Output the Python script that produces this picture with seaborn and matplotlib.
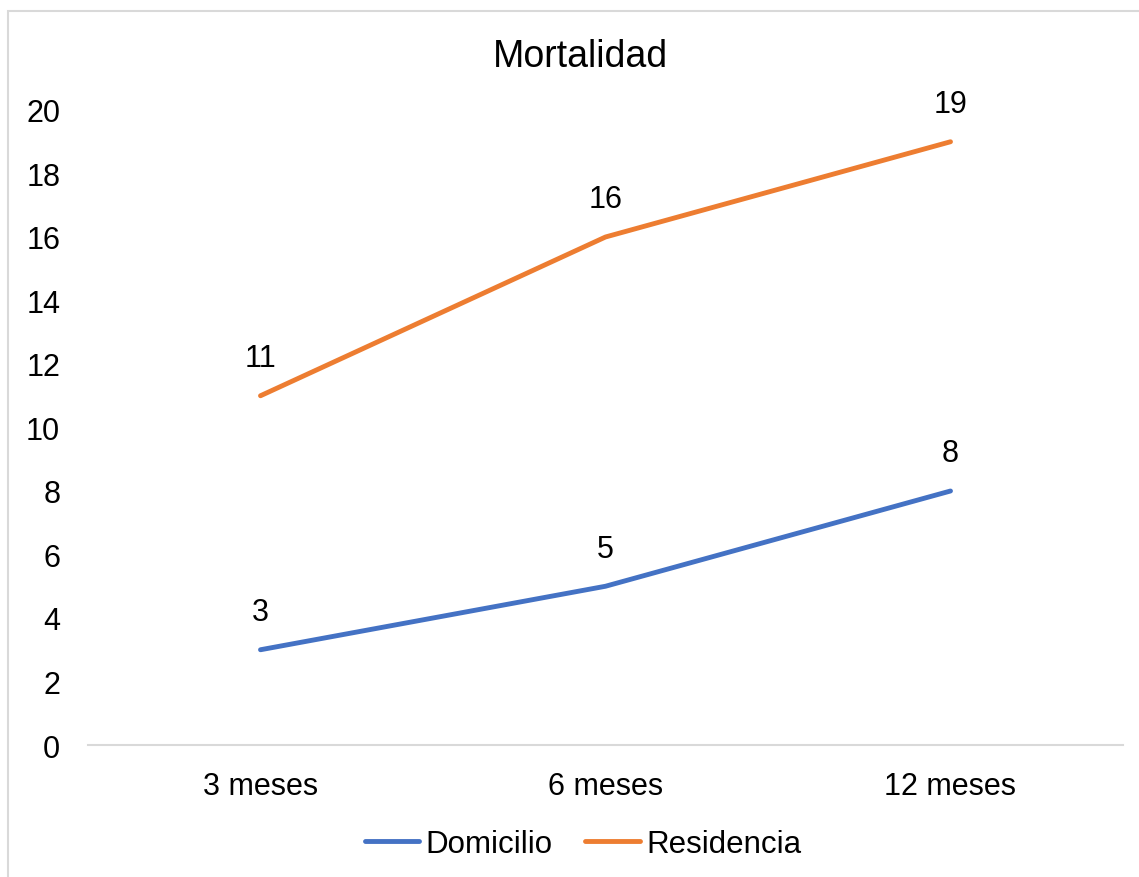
import matplotlib
matplotlib.use("Agg")
import matplotlib.pyplot as plt
import matplotlib.patches as mpatches
import seaborn as sns
import pandas as pd

periodos = ["3 meses", "6 meses", "12 meses"]
domicilio = [3, 5, 8]
residencia = [11, 16, 19]
series = ["Domicilio", "Residencia"]
colores = ["#4472C4", "#ED7D31"]

df = pd.DataFrame({
    "periodo": periodos * 2,
    "valor": domicilio + residencia,
    "serie": [series[0]] * 3 + [series[1]] * 3,
})
df["pos"] = [0, 1, 2] * 2

sns.set_theme(style="white")
plt.rcParams["font.family"] = ["Liberation Sans", "DejaVu Sans"]

W, H = 1139, 878
fig = plt.figure(figsize=(W / 100, H / 100), dpi=100)
ax = fig.add_axes([88 / W, 1 - 746 / H, (1123 - 88) / W, (746 - 111) / H])

sns.lineplot(data=df, x="pos", y="valor", hue="serie", palette=colores,
             linewidth=3.5, ax=ax, legend=False, solid_capstyle="round")

for vals in (domicilio, residencia):
    for i, v in enumerate(vals):
        ax.annotate(str(v), (i, v), xytext=(0, 27), textcoords="offset points",
                    ha="center", va="center", fontsize=22, color="#000000")

ax.set_xlim(-0.5, 2.5)
ax.set_ylim(0, 20)
ax.set_xticks(range(len(periodos)))
ax.set_xticklabels(periodos)
ax.set_yticks(range(0, 21, 2))
ax.tick_params(axis="both", length=0, labelsize=22, colors="#000000")
ax.tick_params(axis="y", pad=20)
ax.tick_params(axis="x", pad=19)
ax.set_xlabel("")
ax.set_ylabel("")
for s in ["top", "right", "left"]:
    ax.spines[s].set_visible(False)
ax.spines["bottom"].set_color("#d9d9d9")
ax.spines["bottom"].set_linewidth(1.5)

fig.text(580 / W, 1 - 57 / H, "Mortalidad", ha="center", va="center",
         fontsize=27, color="#000000")

handles = [plt.Line2D([0], [0], color=c, linewidth=3.5, solid_capstyle="round")
           for c in colores]
fig.legend(handles, series, loc="center", bbox_to_anchor=(583 / W, 1 - 845 / H),
           ncol=2, frameon=False, fontsize=22.5, handlelength=1.75,
           handletextpad=0.2, columnspacing=1.05, labelcolor="#000000")

frame = mpatches.Rectangle((8 / W, -0.05), 1.1, 1 - 12 / H + 0.05,
                           transform=fig.transFigure, fill=False,
                           edgecolor="#d9d9d9", linewidth=1.5)
fig.patches.append(frame)

fig.savefig("out.png", dpi=100)
